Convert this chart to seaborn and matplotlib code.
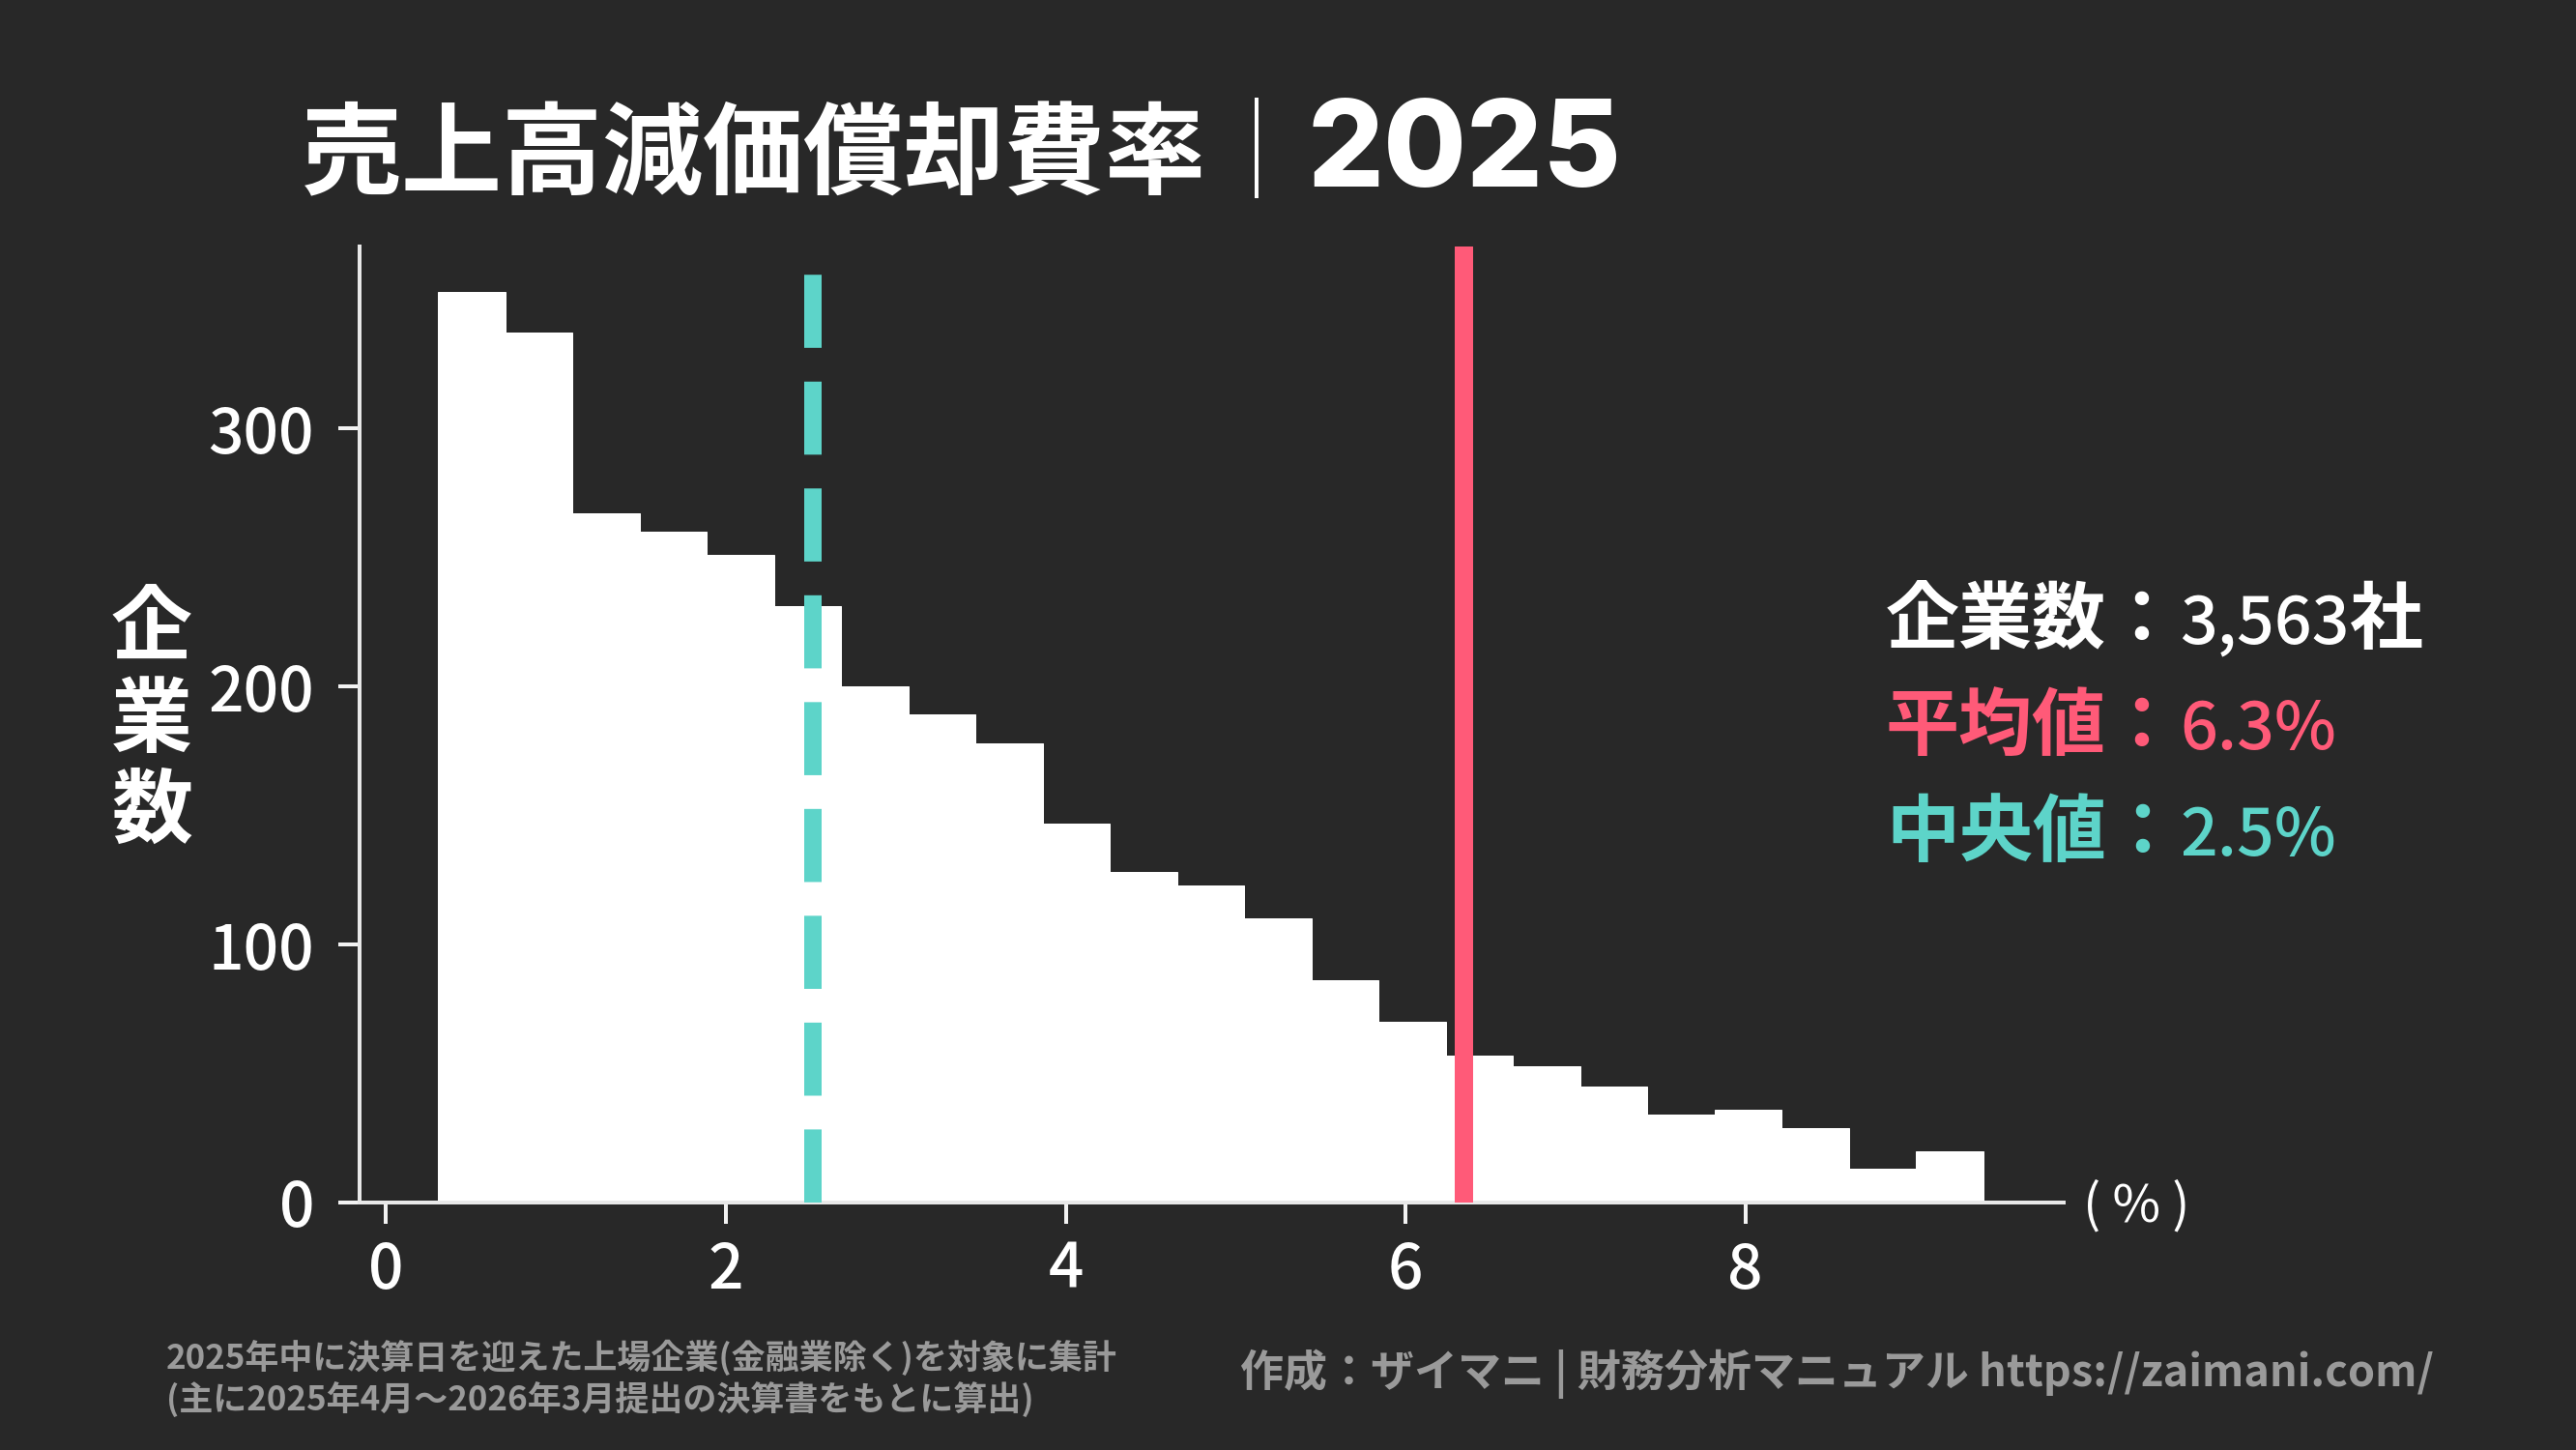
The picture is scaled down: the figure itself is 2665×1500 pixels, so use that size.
import numpy as np
import pandas as pd
import matplotlib
matplotlib.use("Agg")
import matplotlib.pyplot as plt
import seaborn as sns

# --- data ---
title_main = "売上高減価償却費率"
title_sep = "｜"
title_year = "2025"
ylabel = "企業数"
xunit = "( % )"
bin_lo = 0.305   # left edge of first bin (%)
bin_hi = 9.40    # right edge of last bin (%)
counts = [353, 337, 267, 260, 251, 231, 200, 189, 178, 147, 128, 123,
          110, 86, 70, 57, 53, 45, 34, 36, 29, 13, 20]
n_companies = 3563
mean_val = 6.34
median_val = 2.51
xticks = [0, 2, 4, 6, 8]
yticks = [0, 100, 200, 300]
note_lines = ["2025年中に決算日を迎えた上場企業(金融業除く)を対象に集計",
              "(主に2025年4月～2026年3月提出の決算書をもとに算出)"]
credit = "作成：ザイマニ | 財務分析マニュアル https://zaimani.com/"

BG = "#282828"
RED = "#ff5a78"
TEAL = "#5dd4c9"
GREY = "#9a9a9a"
JP = ["Noto Sans CJK JP", "DejaVu Sans"]

sns.set_theme(style="ticks")
plt.rcParams["font.family"] = JP

edges = np.linspace(bin_lo, bin_hi, len(counts) + 1)
df = pd.DataFrame({"ratio": (edges[:-1] + edges[1:]) / 2, "n": counts})

W, H = 2665, 1500
fig = plt.figure(figsize=(W / 72, H / 72), dpi=72, facecolor=BG)
ax = fig.add_axes([372 / W, 1 - 1244 / H, (2135 - 372) / W, (1244 - 255) / H])
ax.set_facecolor(BG)

sns.histplot(data=df, x="ratio", weights="n", bins=len(counts),
             binrange=(bin_lo, bin_hi), color="white",
             alpha=1, edgecolor="white", linewidth=1, ax=ax)

ax.axvline(mean_val, color=RED, lw=19, zorder=5)
ax.axvline(median_val, color=TEAL, lw=18, linestyle=(0, (4.2, 1.94)), zorder=5)

ax.set_xlim(-0.156, 9.873)
ax.set_ylim(0, 370.5)
ax.set_xticks(xticks)
ax.set_yticks(yticks)
ax.set_xlabel("")
ax.set_ylabel("")
ax.grid(False)
sns.despine(ax=ax)
for s in ["left", "bottom"]:
    ax.spines[s].set_color("#e8e8e8")
    ax.spines[s].set_linewidth(4)
ax.tick_params(axis="both", colors="#f2f2f2", labelcolor="white",
               labelsize=64, length=22, width=4)
ax.tick_params(axis="y", pad=25)
ax.tick_params(axis="x", pad=16)
for lab in ax.get_xticklabels() + ax.get_yticklabels():
    lab.set_fontweight("medium")

renderer = fig.canvas.get_renderer()


def text_run(x, y, pieces):
    # lay pieces left to right on one baseline (pixel coords from top-left)
    for s, kw in pieces:
        t = fig.text(x / W, 1 - y / H, s, ha="left", va="baseline", **kw)
        x = t.get_window_extent(renderer).x1


# title
text_run(312, 193, [
    (title_main, dict(fontsize=104, fontweight="bold", color="white", family=JP)),
    (title_sep, dict(fontsize=104, fontweight="light", color="white", family=JP)),
    (title_year, dict(fontsize=124, fontweight="heavy", color="white",
                      family=["Inter", "Liberation Sans", "DejaVu Sans"])),
])

# stacked y label
for i, ch in enumerate(ylabel):
    fig.text(157 / W, 1 - (652 + 94 * i) / H, ch, ha="center", va="center",
             fontsize=84, fontweight="bold", color="white")

fig.text(2155 / W, 1 - 1248 / H, xunit, ha="left", va="center",
         fontsize=54, color="white")

# stats block
stats = [("企業数：", f"{n_companies:,}", "社", "white"),
         ("平均値：", f"{mean_val:.1f}%", "", RED),
         ("中央値：", f"{median_val:.1f}%", "", TEAL)]
for i, (lab, val, unit, c) in enumerate(stats):
    text_run(1951, 665 + 110 * i, [
        (lab, dict(fontsize=76, fontweight="bold", color=c, family=JP)),
        (val, dict(fontsize=68, fontweight="medium", color=c, family=JP)),
        (unit, dict(fontsize=76, fontweight="bold", color=c, family=JP)),
    ])

# footer
for i, line in enumerate(note_lines):
    fig.text(172 / W, 1 - (1404 + 43 * i) / H, line, ha="left", va="center",
             fontsize=35, fontweight="bold", color=GREY)
fig.text(1283 / W, 1 - 1421 / H, credit, ha="left", va="center",
         fontsize=45, fontweight="bold", color=GREY)

fig.savefig("out.png", dpi=72, facecolor=BG)
